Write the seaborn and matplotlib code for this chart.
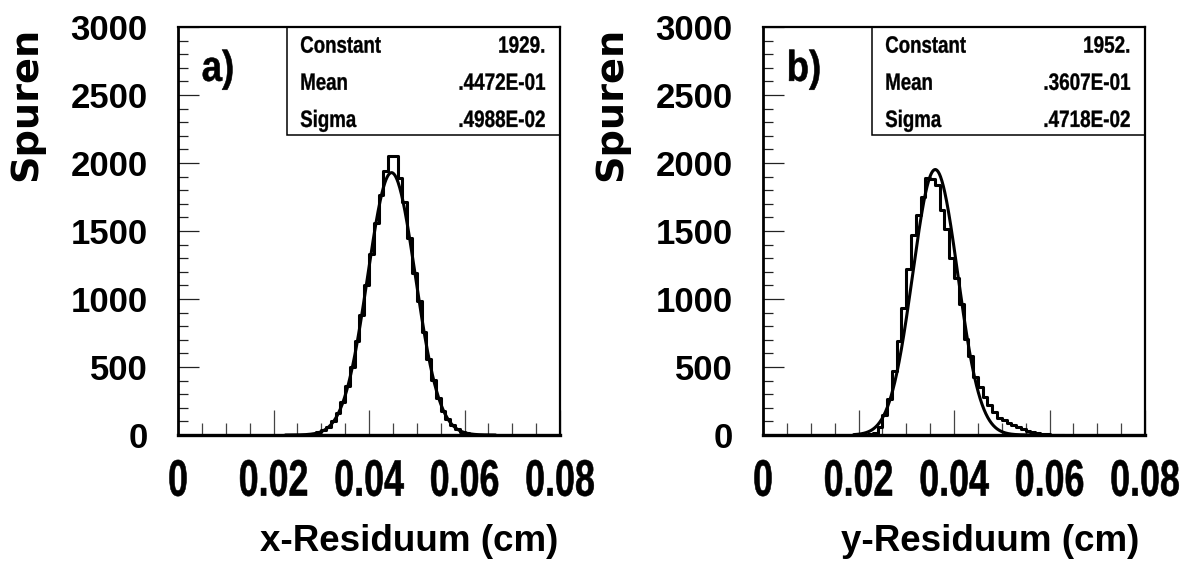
import numpy as np
import pandas as pd
import matplotlib
matplotlib.use("Agg")
import matplotlib.pyplot as plt
from matplotlib.ticker import MultipleLocator
from matplotlib.patches import Rectangle
from matplotlib.patheffects import AbstractPathEffect
from matplotlib.transforms import Affine2D
import seaborn as sns

# ---------------- data ----------------
bin_width = 0.001

# panel a) x-residuals: histogram counts per 0.001 cm bin, first bin starts at 0.022
x_first_edge = 0.022
x_counts = [0, 1, 1, 2, 3, 6, 11, 20, 36, 62, 100, 160, 245, 360, 500, 690,
            880, 1100, 1330, 1557, 1764, 1939, 2051, 2051, 1891, 1710, 1448,
            1190, 985, 760, 560, 401, 275, 180, 115, 70, 42, 24, 13, 7, 3, 2,
            1, 0]
x_fit = {"Constant": 1929., "Mean": 0.4472E-01, "Sigma": 0.4988E-02}
x_fit_text = ["1929.", ".4472E-01", ".4988E-02"]
x_fit_range = (0.0225, 0.0665)

# panel b) y-residuals: histogram counts per 0.001 cm bin, first bin starts at 0.020
y_first_edge = 0.020
y_counts = [1, 2, 6, 17, 61, 146, 268, 474, 693, 937, 1217, 1472, 1618, 1752,
            1890, 1880, 1837, 1655, 1516, 1302, 1151, 961, 706, 584, 426, 353,
            280, 219, 170, 126, 109, 90, 73, 56, 42, 29, 20, 12, 8, 5, 3, 1, 0]
y_fit = {"Constant": 1952., "Mean": 0.3607E-01, "Sigma": 0.4718E-02}
y_fit_text = ["1952.", ".3607E-01", ".4718E-02"]
y_fit_range = (0.0190, 0.0580)

stat_names = ["Constant", "Mean", "Sigma"]
panel_tags = ["a)", "b)"]
x_titles = ["x-Residuum (cm)", "y-Residuum (cm)"]
y_title = "Spuren"
xtick_vals = [0, 0.02, 0.04, 0.06, 0.08]
xtick_labels = ["0", "0.02", "0.04", "0.06", "0.08"]
ytick_vals = [0, 500, 1000, 1500, 2000, 2500, 3000]
ytick_labels = ["0", "500", "1000", "1500", "2000", "2500", "3000"]


# condensed / stretched glyph rendering (text stays a real Text artist)
class Squeeze(AbstractPathEffect):
    def __init__(self, sx=1.0, sy=1.0, anchor="center", stroke=0.0):
        super().__init__()
        self.sx = sx
        self.sy = sy
        self.anchor = anchor
        self.stroke = stroke

    def draw_path(self, renderer, gc, tpath, affine, rgbFace=None):
        ext = tpath.get_extents()
        if self.anchor == "left":
            a = 0.0
        elif self.anchor == "right":
            a = ext.x1
        else:
            a = 0.5 * (ext.x0 + ext.x1)
        b = 0.5 * (ext.y0 + ext.y1)
        pre = (Affine2D().translate(-a, -b).scale(self.sx, self.sy)
               .translate(a, b))
        trans = pre + affine
        if self.stroke > 0 and rgbFace is not None:
            gc0 = renderer.new_gc()
            gc0.copy_properties(gc)
            gc0.set_linewidth(self.stroke)
            gc0.set_foreground(rgbFace)
            renderer.draw_path(gc0, tpath, trans, rgbFace)
            gc0.restore()
        else:
            renderer.draw_path(gc, tpath, trans, rgbFace)


# ---------------- style ----------------
sns.set_theme(style="white")
plt.rcParams["font.family"] = ["Liberation Sans", "DejaVu Sans"]

W, H = 1186, 563
fig = plt.figure(figsize=(W / 100, H / 100), dpi=100)
fig.patch.set_facecolor("white")

panels = [
    (178, x_first_edge, x_counts, x_fit, x_fit_text, x_fit_range),
    (763, y_first_edge, y_counts, y_fit, y_fit_text, y_fit_range),
]

for i, (left_px, first_edge, counts, fit, fit_text, fit_range) in enumerate(panels):
    ax = fig.add_axes([left_px / W, 1 - 435 / H, 382 / W, 408 / H])
    ax.set_facecolor("white")

    n = len(counts)
    centers = first_edge + bin_width * (np.arange(n) + 0.5)
    df = pd.DataFrame({"x": centers, "w": np.asarray(counts, dtype=float)})
    sns.histplot(data=df, x="x", weights="w", binwidth=bin_width,
                 binrange=(first_edge, first_edge + n * bin_width),
                 element="step", fill=False, color="black", linewidth=2.2, ax=ax)

    xs = np.linspace(fit_range[0], fit_range[1], 400)
    ys = fit["Constant"] * np.exp(-0.5 * ((xs - fit["Mean"]) / fit["Sigma"]) ** 2)
    sns.lineplot(x=xs, y=ys, color="black", linewidth=2.2, ax=ax)

    ax.set_xlim(0, 0.08)
    ax.set_ylim(0, 3000)

    ax.set_xticks(xtick_vals)
    ax.set_xticklabels(xtick_labels, fontsize=30, fontweight="bold",
                       color="black",
                       path_effects=[Squeeze(0.86, 1.23, "center", 0.4)])
    ax.xaxis.set_minor_locator(MultipleLocator(0.005))
    ax.set_yticks(ytick_vals)
    ax.set_yticklabels(ytick_labels, fontsize=25, fontweight="bold",
                       color="black")
    ax.yaxis.set_minor_locator(MultipleLocator(100))

    ax.tick_params(axis="x", which="major", direction="in", length=18, width=0.9,
                   color="#444444", pad=19, bottom=True, top=False)
    ax.tick_params(axis="x", which="minor", direction="in", length=8.5, width=0.9,
                   color="#444444", bottom=True, top=False)
    ax.tick_params(axis="y", which="major", direction="in", length=15, width=0.9,
                   color="#222222", pad=22, left=True, right=False)
    ax.tick_params(axis="y", which="minor", direction="in", length=7.2, width=0.9,
                   color="#222222", left=True, right=False)

    for side, lw in [("left", 2.0), ("bottom", 2.4), ("top", 1.6), ("right", 1.6)]:
        ax.spines[side].set_visible(True)
        ax.spines[side].set_color("black")
        ax.spines[side].set_linewidth(lw)

    ax.set_xlabel(x_titles[i], loc="right", fontsize=26.5, fontweight="bold",
                  color="black")
    ax.xaxis.set_label_coords(0.995 if i == 0 else 0.985, -0.217)
    ax.set_ylabel(y_title, loc="top", fontsize=27.5, fontweight="bold",
                  color="black", family=["DejaVu Sans"])
    ax.yaxis.set_label_coords(-0.35, 1.0)

    # statistics box
    ax.add_patch(Rectangle((0.286, 0.735), 0.714, 0.265, transform=ax.transAxes,
                           fill=False, edgecolor="black", linewidth=1.1,
                           clip_on=False, zorder=5))
    rows_y = [0.953, 0.862, 0.771]
    for name, val, yy in zip(stat_names, fit_text, rows_y):
        ax.text(0.32, yy, name, transform=ax.transAxes, ha="left", va="center",
                fontsize=17, fontweight="bold", color="black",
                path_effects=[Squeeze(0.79, 1.0, "left", 0.25)])
        ax.text(0.963, yy, val, transform=ax.transAxes, ha="right", va="center",
                fontsize=17, fontweight="bold", color="black",
                path_effects=[Squeeze(0.80, 1.0, "right", 0.25)])

    ax.text(0.062, 0.895, panel_tags[i], transform=ax.transAxes, ha="left",
            va="center", fontsize=31, fontweight="bold", color="black",
            path_effects=[Squeeze(0.85, 1.0, "left", 0.4)])

fig.savefig("out.png", dpi=100, facecolor="white")
